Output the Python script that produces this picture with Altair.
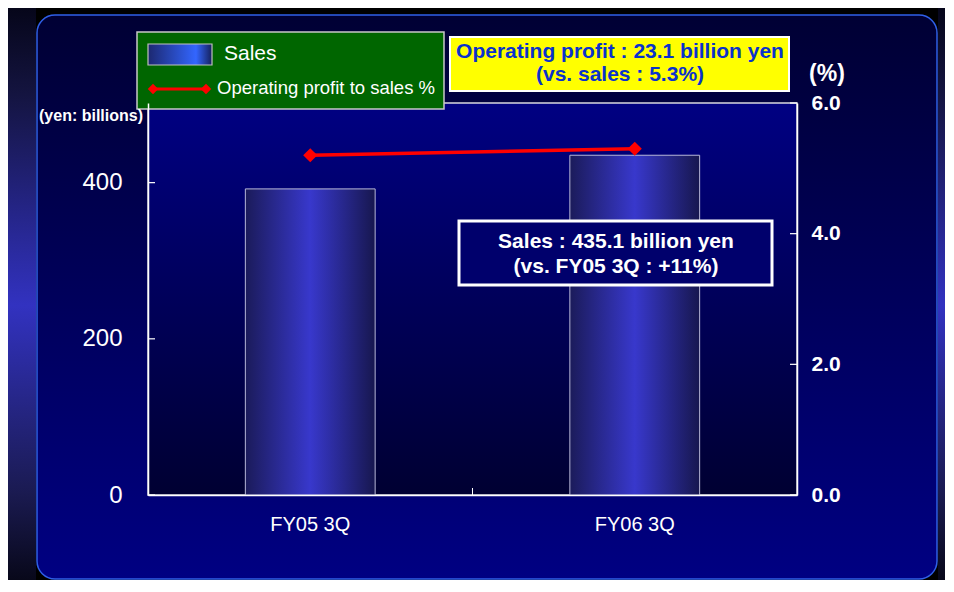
import altair as alt
import pandas as pd

# ---- data ----
categories = ["FY05 3Q", "FY06 3Q"]
sales = [392.0, 435.1]
op_ratio = [5.2, 5.3]
left_ticks = [0, 200, 400]
right_ticks = [0.0, 2.0, 4.0, 6.0]
legend_labels = ["Sales", "Operating profit to sales %"]
note_profit = ["Operating profit : 23.1 billion yen", "(vs. sales : 5.3%)"]
note_sales = ["Sales : 435.1 billion yen", "(vs. FY05 3Q : +11%)"]
left_unit = "(yen: billions)"
right_unit = "(%)"

df = pd.DataFrame({"cat": categories, "sales": sales, "ratio": op_ratio})
FONT = "Liberation Sans"
W, H = 649, 392
one = alt.Data(values=[{"k": 0}])


def grad(stops, vertical=False):
    return alt.LinearGradient(
        gradient="linear",
        stops=[alt.GradientStop(offset=o, color=c) for o, c in stops],
        x1=0, y1=0, x2=0 if vertical else 1, y2=1 if vertical else 0,
    )


def box(x1, x2, y1, y2, **kw):
    return alt.Chart(one).mark_rect(**kw).encode(
        x=alt.value(x1), x2=alt.value(x2), y=alt.value(y1), y2=alt.value(y2)
    )


def label(x, y, text, **kw):
    return alt.Chart(one).mark_text(text=text, font=FONT, **kw).encode(
        x=alt.value(x), y=alt.value(y)
    )


# ---- decorative background ----
strip_grad = grad([(0, "#06061a"), (0.15, "#141440"), (0.52, "#3232c0"),
                   (0.85, "#1a1a50"), (1, "#08081a")], vertical=True)
left_strip = box(-140, -112, -95, 477, fill=strip_grad)
right_strip = box(790, 800, -95, 477, fill=strip_grad)
panel = box(-111, 789, -88, 476,
            fill=grad([(0, "#000034"), (1, "#000082")], vertical=True),
            stroke="#2f5fe8", strokeWidth=1.5, cornerRadius=18)
plot_bg = box(0, W, 0, H,
              fill=grad([(0, "#000082"), (1, "#000032")], vertical=True),
              stroke="#d8d8e0", strokeWidth=1.5)

# ---- data layers ----
x_axis = alt.Axis(labelAngle=0, labelFont=FONT, labelFontSize=20,
                  labelColor="white", labelPadding=19, ticks=False,
                  domainColor="white", domainWidth=1.5, zindex=1)
x_enc = alt.X("cat:N", sort=categories, title=None,
              scale=alt.Scale(paddingInner=0.6, paddingOuter=0.3), axis=x_axis)

bar_grad = grad([(0, "#1b1b5a"), (0.5, "#3838cc"), (1, "#17174f")])
bars = alt.Chart(df).mark_bar(fill=bar_grad, stroke="#b8b8d8", strokeWidth=1).encode(
    x=x_enc,
    y=alt.Y("sales:Q", title=None, scale=alt.Scale(domain=[0, 502]),
            axis=alt.Axis(orient="left", values=left_ticks, labelFont=FONT,
                          labelFontSize=24, labelColor="white", labelPadding=26,
                          ticks=False, grid=False, domainColor="white",
                          domainWidth=1.5, zindex=1)),
)

line = alt.Chart(df).mark_line(
    color="#ff0000", strokeWidth=3.5,
    point=alt.OverlayMarkDef(shape="diamond", size=200, filled=True, color="#ff0000", opacity=1),
).encode(
    x=x_enc,
    y=alt.Y("ratio:Q", title=None, scale=alt.Scale(domain=[0, 6]),
            axis=alt.Axis(orient="right", values=right_ticks, format=".1f",
                          labelFont=FONT, labelFontSize=21, labelFontWeight="bold",
                          labelColor="white", labelPadding=14, ticks=False,
                          grid=False, domainColor="white", domainWidth=1.5,
                          zindex=1)),
)

lt = pd.DataFrame({"v": left_ticks})
rt = pd.DataFrame({"v": right_ticks})
left_tick_marks = alt.Chart(lt).mark_rule(color="white", strokeWidth=1.2).encode(
    x=alt.value(0), x2=alt.value(7),
    y=alt.Y("v:Q", scale=alt.Scale(domain=[0, 502]), axis=None))
right_tick_marks = alt.Chart(rt).mark_rule(color="white", strokeWidth=1.2).encode(
    x=alt.value(W - 7), x2=alt.value(W),
    y=alt.Y("v:Q", scale=alt.Scale(domain=[0, 6]), axis=None))
mid_tick = alt.Chart(one).mark_rule(color="white", strokeWidth=1).encode(
    x=alt.value(W / 2), y=alt.value(H - 7), y2=alt.value(H))

# ---- legend ----
legend_box = box(-11, 296, -71, 6, fill="#006600", stroke="#c8c8c8", strokeWidth=1.5)
swatch = box(0, 64, -59, -38,
             fill=grad([(0, "#1c2870"), (0.75, "#3366ff"), (1, "#15205a")]),
             stroke="#c0c0c0", strokeWidth=1.2)
sales_txt = label(76, -49, legend_labels[0], align="left", baseline="middle",
                  fontSize=21, color="white")
leg_line = alt.Chart(one).mark_rule(color="#ff0000", strokeWidth=3).encode(
    x=alt.value(5), x2=alt.value(58), y=alt.value(-14))
leg_d1 = alt.Chart(one).mark_point(shape="diamond", size=110, filled=True,
                                   color="#ff0000", opacity=1).encode(
    x=alt.value(5), y=alt.value(-14))
leg_d2 = alt.Chart(one).mark_point(shape="diamond", size=110, filled=True,
                                   color="#ff0000", opacity=1).encode(
    x=alt.value(58), y=alt.value(-14))
op_txt = label(69, -15, legend_labels[1], align="left", baseline="middle",
               fontSize=18.5, color="white")

# ---- annotations ----
yellow_box = box(302, 641, -66, -12, fill="#ffff00", stroke="white", strokeWidth=2)
yellow_txt = label(472, -51, note_profit, align="center", baseline="middle",
                   fontSize=21, fontWeight="bold", color="#0a32cc", lineHeight=23)
sales_box = box(311, 624, 118, 182, fill="#00006c", stroke="white", strokeWidth=3)
sales_note = label(468, 139, note_sales, align="center", baseline="middle",
                   fontSize=21, fontWeight="bold", color="white", lineHeight=25)
pct_txt = label(679, -29, right_unit, align="center", baseline="middle",
                fontSize=23, fontWeight="bold", color="white")
yen_txt = label(-57, 13, left_unit, align="center", baseline="middle",
                fontSize=16, fontWeight="bold", color="white")

chart = alt.layer(
    left_strip, right_strip, panel, plot_bg,
    bars, line, left_tick_marks, right_tick_marks, mid_tick,
    legend_box, swatch, sales_txt, leg_line, leg_d1, leg_d2, op_txt,
    yellow_box, yellow_txt, sales_box, sales_note, pct_txt, yen_txt,
).resolve_scale(y="independent").properties(
    width=W, height=H,
    autosize=alt.AutoSizeParams(type="none"),
    padding={"left": 140, "top": 95, "right": 148, "bottom": 85},
    background="#000000",
).configure_view(stroke="transparent")

chart.save("out.html", embed_options={"renderer": "svg", "actions": False})
